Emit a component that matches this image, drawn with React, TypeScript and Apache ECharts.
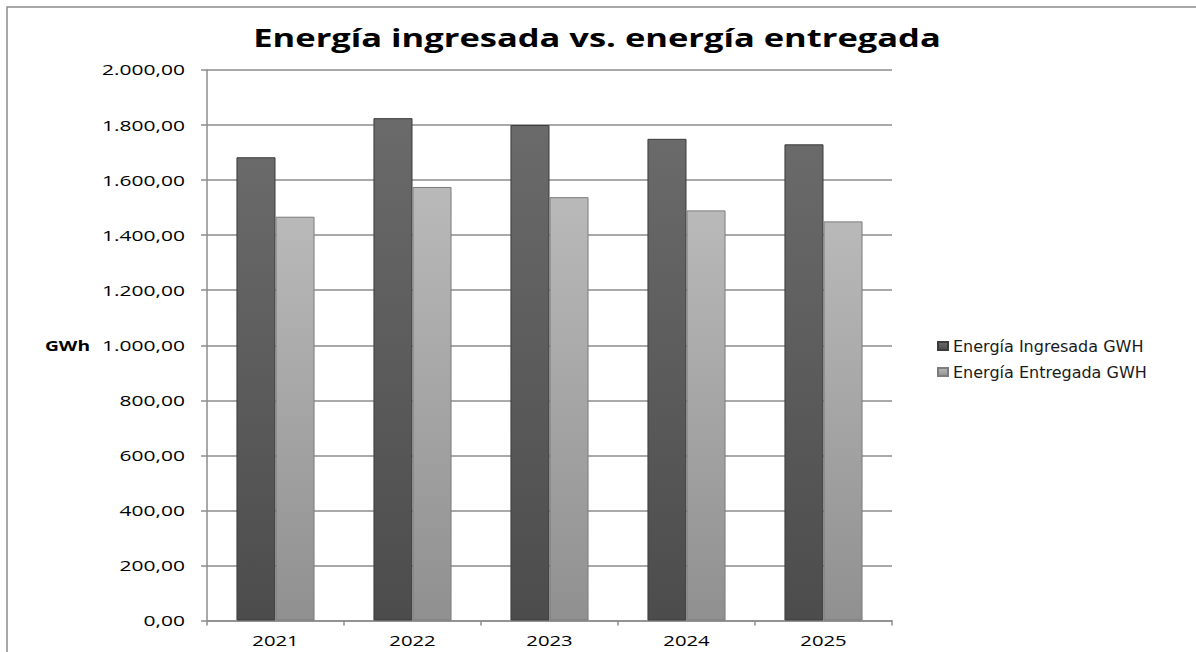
import React, { useEffect, useRef } from "react";
import * as echarts from "echarts";

const categories = ["2021", "2022", "2023", "2024", "2025"];
const ingresada = [1683, 1825, 1800, 1750, 1730];
const entregada = [1467, 1575, 1538, 1490, 1450];
const yTicks = [0, 200, 400, 600, 800, 1000, 1200, 1400, 1600, 1800, 2000];
const seriesNames = ["Energía Ingresada GWH", "Energía Entregada GWH"];
const titleText = "Energía ingresada vs. energía entregada";
const yAxisName = "GWh";

const fmt = (v: number) => {
  const parts = v.toFixed(2).split(".");
  const intPart = parts[0].replace(/\B(?=(\d{3})+(?!\d))/g, ".");
  return intPart + "," + parts[1];
};

export default function App() {
  const ref = useRef<HTMLDivElement>(null);
  useEffect(() => {
    if (!ref.current) return;
    const chart = echarts.init(ref.current, undefined, { renderer: "svg" });
    const font = "'Open Sans', 'Liberation Sans', sans-serif";
    const darkGrad = new echarts.graphic.LinearGradient(0, 0, 0, 1, [
      { offset: 0, color: "#6a6a6a" },
      { offset: 1, color: "#4c4c4c" },
    ]);
    const lightGrad = new echarts.graphic.LinearGradient(0, 0, 0, 1, [
      { offset: 0, color: "#b9b9b9" },
      { offset: 1, color: "#909090" },
    ]);
    chart.setOption({
      animation: false,
      backgroundColor: "#ffffff",
      textStyle: { fontFamily: font },
      legend: {
        orient: "vertical",
        left: 932,
        top: 333,
        itemWidth: 10,
        itemHeight: 8,
        itemGap: 10,
        icon: "rect",
        textStyle: { fontFamily: "'DejaVu Sans', sans-serif", fontSize: 16, color: "#1a1a1a" },
        data: seriesNames,
      },
      grid: { left: 207, right: 304, top: 70, bottom: 31.5, containLabel: false },
      xAxis: {
        type: "category",
        data: categories,
        axisLine: { lineStyle: { color: "#8c8c8c", width: 1.5 } },
        axisTick: { show: true, length: 5, lineStyle: { color: "#8c8c8c", width: 1.5 } },
        axisLabel: { show: false },
      },
      yAxis: {
        type: "value",
        min: 0,
        max: 2000,
        interval: 200,
        axisLine: { show: true, lineStyle: { color: "#8c8c8c", width: 1.5 } },
        axisTick: { show: true, length: 6, lineStyle: { color: "#8c8c8c", width: 1.5 } },
        axisLabel: { show: false },
        splitLine: { lineStyle: { color: "#8c8c8c", width: 1.5 } },
      },
      series: [
        {
          name: seriesNames[0],
          type: "bar",
          data: ingresada,
          barGap: "0%",
          barCategoryGap: "43%",
          itemStyle: { color: darkGrad, borderColor: "#3c3c3c", borderWidth: 1 },
        },
        {
          name: seriesNames[1],
          type: "bar",
          data: entregada,
          itemStyle: { color: lightGrad, borderColor: "#7c7c7c", borderWidth: 1 },
        },
      ],
    });

    const graphics: any[] = [
      {
        type: "rect",
        shape: { x: 7, y: 7, width: 1300, height: 800 },
        style: { fill: "none", stroke: "#8c8c8c", lineWidth: 1.5 },
        silent: true,
        z: -1,
      },
      {
        type: "text",
        x: 597,
        y: 37,
        scaleX: 1.38,
        style: {
          text: titleText,
          font: `bold 25px ${font}`,
          fill: "#000000",
          align: "center",
          verticalAlign: "middle",
        },
      },
      {
        type: "text",
        x: 90,
        y: 346,
        scaleX: 1.37,
        style: {
          text: yAxisName,
          font: `bold 14px ${font}`,
          fill: "#000000",
          align: "right",
          verticalAlign: "middle",
        },
      },
    ];
    yTicks.forEach((v) => {
      const py = chart.convertToPixel({ yAxisIndex: 0 }, v) as number;
      graphics.push({
        type: "text",
        x: 185,
        y: py,
        scaleX: 1.5,
        style: {
          text: fmt(v),
          font: `14px ${font}`,
          fill: "#000000",
          align: "right",
          verticalAlign: "middle",
        },
      });
    });
    categories.forEach((c) => {
      const px = chart.convertToPixel({ xAxisIndex: 0 }, c) as number;
      graphics.push({
        type: "text",
        x: px,
        y: 640,
        scaleX: 1.45,
        style: {
          text: c,
          font: `14px ${font}`,
          fill: "#000000",
          align: "center",
          verticalAlign: "middle",
        },
      });
    });
    chart.setOption({ graphic: graphics });
    return () => chart.dispose();
  }, []);
  return (
    <div
      ref={ref}
      style={{ position: "fixed", left: 0, top: 0, width: 1196, height: 652 }}
    />
  );
}
